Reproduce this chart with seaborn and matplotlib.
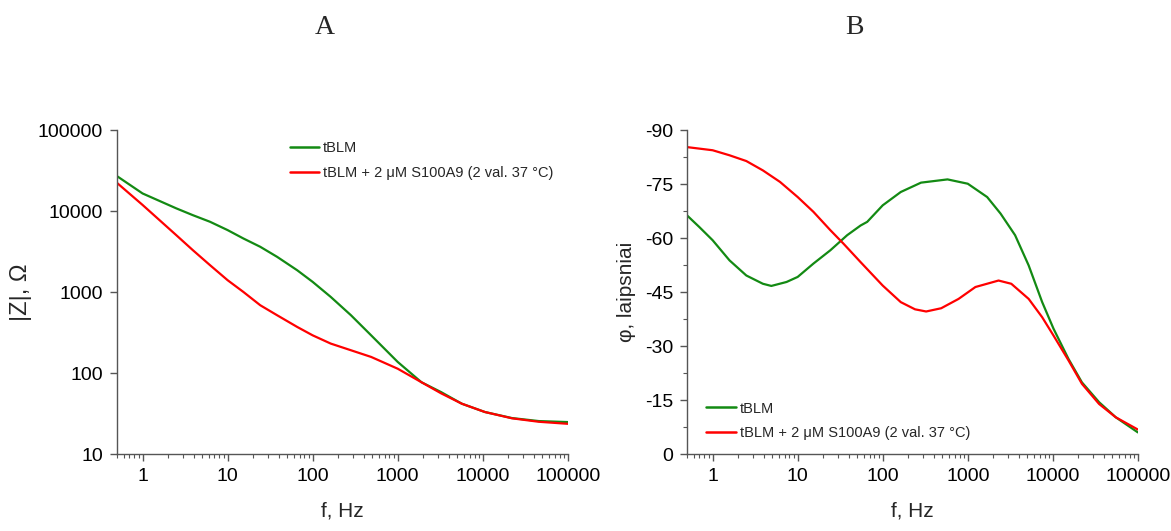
import matplotlib
matplotlib.use("Agg")
import matplotlib.pyplot as plt
import matplotlib.ticker as mticker
import seaborn as sns
import pandas as pd
import numpy as np

# ---- data ----
freq_z = [0.49, 1, 2.49, 3.9, 6.2, 10, 15.3, 24.2, 38.2, 65.7, 100, 163, 282, 487,
          1000, 1900, 3250, 5670, 10600, 22000, 45700, 100000]
z_tblm = [27400, 16500, 10800, 8900, 7380, 5820, 4590, 3620, 2720, 1860, 1335, 871,
          517, 292, 137, 77, 58, 41.8, 33, 27.8, 25.5, 24.8]
z_s100 = [22700, 11900, 5040, 3290, 2150, 1400, 1004, 687, 517, 371, 292, 231,
          191, 158, 113, 77, 56, 41.8, 33, 27.6, 25.0, 23.6]

freq_p_tblm = [0.49, 0.695, 1, 1.58, 2.49, 3.9, 4.9, 7.4, 10, 15.3, 24.2, 38.2, 55,
               65.7, 100, 163, 282, 578, 1000, 1690, 2430, 3600, 5200, 7500, 10200,
               15300, 22000, 35000, 55000, 100000]
ph_tblm = [-66.5, -63.1, -59.4, -53.8, -49.6, -47.3, -46.7, -47.8, -49.2, -52.9,
           -56.6, -60.8, -63.5, -64.5, -69.1, -72.8, -75.4, -76.3, -75.1, -71.4,
           -66.8, -60.8, -52.4, -42.2, -34.8, -26.4, -19.9, -14.4, -10.2, -6.0]
freq_p_s100 = [0.49, 1, 1.58, 2.49, 3.9, 6.2, 10, 15.3, 24.2, 34.7, 55, 100, 163,
               240, 324, 487, 780, 1230, 2300, 3250, 5200, 7500, 10200, 15300,
               22000, 35000, 55000, 100000]
ph_s100 = [-85.3, -84.4, -83.0, -81.4, -78.8, -75.6, -71.4, -67.3, -62.2, -58.4,
           -53.3, -46.8, -42.2, -40.2, -39.6, -40.5, -43.1, -46.4, -48.2, -47.3,
           -43.1, -38.0, -32.9, -26.0, -19.5, -13.9, -10.2, -6.8]

labels = ["tBLM", "tBLM + 2 μM S100A9 (2 val. 37 °C)"]
colors = ["#138a13", "#ff0000"]
x_ticks = [1, 10, 100, 1000, 10000, 100000]
z_ticks = [10, 100, 1000, 10000, 100000]
p_ticks = [0, -15, -30, -45, -60, -75, -90]

sns.set_theme(style="ticks")
plt.rcParams["font.family"] = ["Liberation Sans", "DejaVu Sans"]
plt.rcParams["axes.unicode_minus"] = False

df_z = pd.DataFrame({
    "f": freq_z * 2,
    "val": z_tblm + z_s100,
    "series": [labels[0]] * len(freq_z) + [labels[1]] * len(freq_z),
})
df_p = pd.DataFrame({
    "f": freq_p_tblm + freq_p_s100,
    "val": ph_tblm + ph_s100,
    "series": [labels[0]] * len(freq_p_tblm) + [labels[1]] * len(freq_p_s100),
})

fig = plt.figure(figsize=(11.71, 5.31), dpi=100)
axA = fig.add_axes([0.0999, 0.145, 0.385, 0.610])
axB = fig.add_axes([0.5867, 0.145, 0.385, 0.610])

pal = dict(zip(labels, colors))
sns.lineplot(data=df_z, x="f", y="val", hue="series", palette=pal, ax=axA,
             linewidth=1.6, sort=False, hue_order=labels)
sns.lineplot(data=df_p, x="f", y="val", hue="series", palette=pal, ax=axB,
             linewidth=1.6, sort=False, hue_order=labels)

spine_col = "#555555"
for ax in (axA, axB):
    ax.set_xscale("log")
    ax.set_xlim(0.5, 100000)
    ax.set_xticks(x_ticks)
    ax.xaxis.set_major_formatter(mticker.FuncFormatter(lambda v, p: f"{int(round(v))}"))
    ax.xaxis.set_minor_locator(mticker.LogLocator(base=10, subs=np.arange(2, 10)))
    ax.xaxis.set_minor_formatter(mticker.NullFormatter())
    for s in ("top", "right"):
        ax.spines[s].set_visible(False)
    for s in ("left", "bottom"):
        ax.spines[s].set_color(spine_col)
        ax.spines[s].set_linewidth(1.0)
    ax.tick_params(which="major", length=5, width=1.0, color=spine_col,
                   labelsize=14, labelcolor="black", pad=5)
    ax.tick_params(which="minor", length=3, width=0.8, color=spine_col)
    ax.set_xlabel("f, Hz", fontsize=15, labelpad=12)

axA.set_yscale("log")
axA.set_ylim(10, 100000)
axA.set_yticks(z_ticks)
axA.yaxis.set_major_formatter(mticker.FuncFormatter(lambda v, p: f"{int(round(v))}"))
axA.yaxis.set_minor_locator(mticker.NullLocator())
axA.set_ylabel("|Z|, Ω", fontsize=17, labelpad=4)

axB.set_ylim(0, -90)
axB.set_yticks(p_ticks)
axB.yaxis.set_minor_locator(mticker.MultipleLocator(7.5))
axB.set_ylabel("φ, laipsniai", fontsize=15, labelpad=6)

legA = axA.legend(loc="upper left", bbox_to_anchor=(0.37, 0.985), frameon=False,
                  fontsize=10.5, handlelength=2.0, handletextpad=0.3,
                  labelspacing=0.75, borderaxespad=0)
legB = axB.legend(loc="upper left", bbox_to_anchor=(0.03, 0.18), frameon=False,
                  fontsize=10.5, handlelength=2.0, handletextpad=0.3,
                  labelspacing=0.7, borderaxespad=0)
for leg in (legA, legB):
    for line in leg.get_lines():
        line.set_linewidth(1.8)

fig.text(325 / 1171, 1 - 27 / 531, "A", ha="center", va="center", fontsize=20,
         family=["Liberation Serif", "DejaVu Serif"])
fig.text(854 / 1171, 1 - 27 / 531, "B", ha="center", va="center", fontsize=20,
         family=["Liberation Serif", "DejaVu Serif"])

fig.savefig("out.png", dpi=100, facecolor="white")
